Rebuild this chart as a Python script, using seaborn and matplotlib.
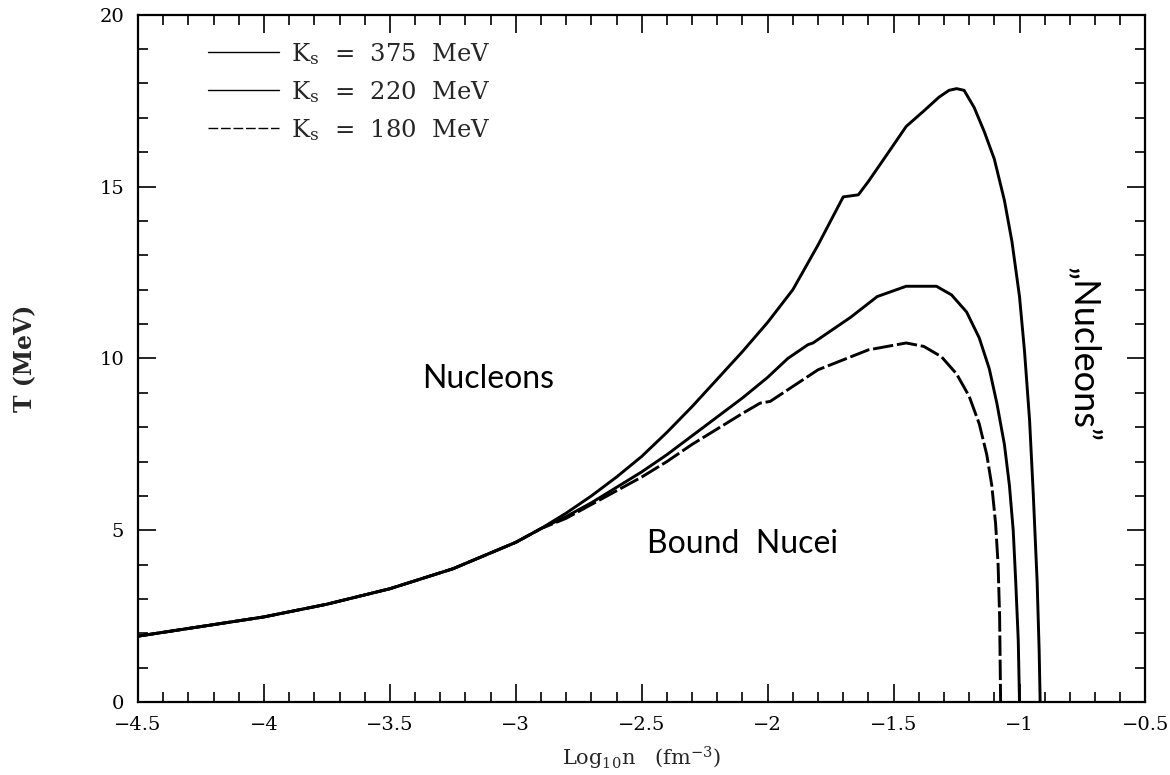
import numpy as np
import pandas as pd
import matplotlib
matplotlib.use("Agg")
import matplotlib.pyplot as plt
from matplotlib.ticker import MultipleLocator, FuncFormatter
from matplotlib.lines import Line2D
import seaborn as sns

# shared low-density branch (all three curves coincide)
x_shared = [-4.5, -4.25, -4.0, -3.75, -3.5, -3.25, -3.0, -2.9]
t_shared = [1.92, 2.2, 2.48, 2.85, 3.3, 3.88, 4.65, 5.05]

# K_s = 375 MeV
x_375 = [-2.8, -2.7, -2.6, -2.5, -2.4, -2.3, -2.2, -2.1, -2.0, -1.9, -1.8, -1.70,
         -1.64, -1.60, -1.52, -1.45, -1.38, -1.32, -1.28, -1.25, -1.22, -1.18, -1.14,
         -1.10, -1.06, -1.03, -1.0, -0.98, -0.96, -0.945, -0.93, -0.922, -0.918]
t_375 = [5.5, 6.0, 6.55, 7.15, 7.85, 8.6, 9.4, 10.2, 11.05, 12.0, 13.3, 14.7,
         14.76, 15.15, 16.0, 16.75, 17.2, 17.6, 17.8, 17.85, 17.8, 17.3, 16.6,
         15.8, 14.6, 13.4, 11.8, 10.2, 8.2, 6.0, 3.5, 1.5, 0.0]

# K_s = 220 MeV
x_220 = [-2.8, -2.7, -2.6, -2.5, -2.4, -2.3, -2.2, -2.1, -2.0, -1.92, -1.84, -1.82,
         -1.67, -1.565, -1.45, -1.33, -1.27, -1.21, -1.16, -1.12, -1.09, -1.06,
         -1.04, -1.025, -1.015, -1.005, -1.0]
t_220 = [5.4, 5.8, 6.25, 6.7, 7.2, 7.75, 8.3, 8.85, 9.45, 10.0, 10.4, 10.45,
         11.2, 11.8, 12.1, 12.1, 11.85, 11.35, 10.6, 9.7, 8.7, 7.5,
         6.3, 5.0, 3.5, 1.8, 0.0]

# K_s = 180 MeV
x_180 = [-2.8, -2.7, -2.6, -2.5, -2.4, -2.3, -2.2, -2.1, -2.03, -1.99, -1.80, -1.60,
         -1.45, -1.38, -1.31, -1.25, -1.20, -1.16, -1.13, -1.11, -1.095, -1.085,
         -1.079, -1.075]
t_180 = [5.35, 5.75, 6.15, 6.55, 7.0, 7.5, 7.95, 8.4, 8.7, 8.75, 9.67, 10.25,
         10.45, 10.35, 10.05, 9.55, 8.9, 8.1, 7.2, 6.3, 5.2, 4.0,
         2.5, 0.0]

labels = ["K$_\\mathrm{s}$  =  375  MeV", "K$_\\mathrm{s}$  =  220  MeV",
          "K$_\\mathrm{s}$  =  180  MeV"]

sns.set_theme(style="ticks")
plt.rcParams["font.family"] = ["DejaVu Serif"]
plt.rcParams["mathtext.fontset"] = "dejavuserif"

fig = plt.figure(figsize=(11.7, 7.75), dpi=100)
ax = fig.add_axes([0.118, 0.094, 0.861, 0.887])

curves = [(x_375, t_375, None),
          (x_220, t_220, None),
          (x_180, t_180, (7, 1.3))]

for (xs, ts, dash) in curves:
    df = pd.DataFrame({"logn": x_shared + xs, "T": t_shared + ts})
    sns.lineplot(data=df, x="logn", y="T", sort=False, estimator=None, ax=ax,
                 color="black", linewidth=2.1)
    if dash is not None:
        ax.lines[-1].set_dashes(dash)

ax.set_xlim(-4.5, -0.5)
ax.set_ylim(0, 20)
ax.xaxis.set_major_locator(MultipleLocator(0.5))
ax.xaxis.set_minor_locator(MultipleLocator(0.1))
ax.yaxis.set_major_locator(MultipleLocator(5))
ax.yaxis.set_minor_locator(MultipleLocator(1))
ax.xaxis.set_major_formatter(FuncFormatter(lambda v, p: ("%g" % v).replace("-", "\u2212")))
ax.yaxis.set_major_formatter(FuncFormatter(lambda v, p: "%g" % v))
ax.tick_params(which="both", direction="in", top=True, right=True, colors="black",
               labelsize=14, width=1.2)
ax.tick_params(which="major", length=13, pad=10)
ax.tick_params(which="minor", length=7)
for sp in ax.spines.values():
    sp.set_color("black")
    sp.set_linewidth(1.6)

ax.set_xlabel("Log$_{10}$n   (fm$^{-3}$)", fontsize=15, labelpad=8)
ax.set_ylabel("T (MeV)", fontsize=17, fontweight="bold", labelpad=45)

handles = [Line2D([], [], color="black", lw=1.0),
           Line2D([], [], color="black", lw=1.0),
           Line2D([], [], color="black", lw=1.0, dashes=(7, 2))]
ax.legend(handles, labels, loc="upper left", frameon=False, fontsize=17.5,
          handlelength=2.9, handletextpad=0.5, labelspacing=0.5,
          bbox_to_anchor=(0.048, 0.994))

hand = dict(family=["Lato", "DejaVu Sans"], fontsize=23, color="black")
ax.text(-3.11, 9.4, "Nucleons", ha="center", va="center", **hand)
ax.text(-2.1, 4.6, "Bound  Nucei", ha="center", va="center", **hand)
ax.text(-0.745, 10.1, "\u201eNucleons\u201d", ha="center", va="center", rotation=270,
        family=["Lato", "DejaVu Sans"], fontsize=26, color="black")

fig.savefig("out.png", dpi=100, facecolor="white")
